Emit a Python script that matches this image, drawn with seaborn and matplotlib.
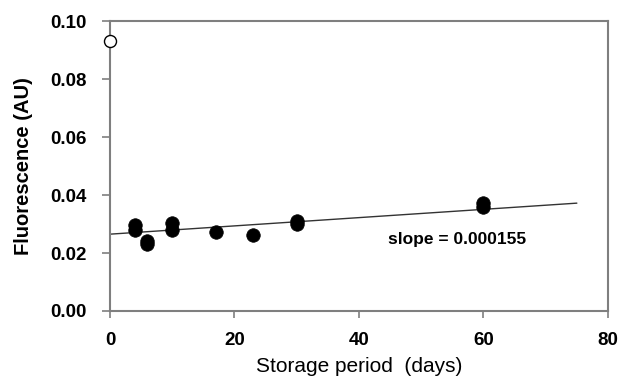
import matplotlib
matplotlib.use("Agg")
import matplotlib.pyplot as plt
import seaborn as sns
import pandas as pd

days = [4, 4, 6, 6, 10, 10, 17, 23, 30, 30, 60, 60]
fluor = [0.0295, 0.0280, 0.0240, 0.0232, 0.0302, 0.0280, 0.0273, 0.0262, 0.0312, 0.0300, 0.0372, 0.0360]
day0_x = [0]
day0_y = [0.093]
fit_x = [0, 75]
fit_y = [0.0265, 0.0372]
x_ticks = [0, 20, 40, 60, 80]
y_ticks = [0.00, 0.02, 0.04, 0.06, 0.08, 0.10]

sns.set_style("white")
plt.rcParams['font.family'] = ['Liberation Sans', 'DejaVu Sans']
plt.rcParams['text.color'] = 'black'
plt.rcParams['axes.labelcolor'] = 'black'

fig = plt.figure(figsize=(6.2, 3.83), dpi=100)
ax = fig.add_axes([0.1774, 0.188, 0.8032, 0.757])

df = pd.DataFrame({"day": days, "f": fluor})
sns.lineplot(x=fit_x, y=fit_y, ax=ax, color="#333333", linewidth=1.0)
sns.scatterplot(data=df, x="day", y="f", ax=ax, color="black", s=95, edgecolor="black", linewidth=0.5, zorder=3)
sns.scatterplot(x=day0_x, y=day0_y, ax=ax, color="white", s=75, edgecolor="black", linewidth=1.0, zorder=4, clip_on=False)

ax.set_xlim(0, 80)
ax.set_ylim(0, 0.10)
ax.set_xticks(x_ticks)
ax.set_yticks(y_ticks)
ax.set_xticklabels([str(t) for t in x_ticks], fontweight="bold", fontsize=13.5)
ax.set_yticklabels([f"{t:.2f}" for t in y_ticks], fontweight="bold", fontsize=13.5)
ax.set_xlabel("Storage period  (days)", fontsize=15, labelpad=6)
ax.set_ylabel("Fluorescence (AU)", fontsize=14.5, fontweight="bold", labelpad=12)

for sp in ax.spines.values():
    sp.set_visible(True)
    sp.set_color("#7f7f7f")
    sp.set_linewidth(1.5)
ax.tick_params(axis="x", direction="out", length=5, width=1.2, color="#7f7f7f", labelcolor="black", pad=10)
ax.tick_params(axis="y", direction="out", length=6, width=1.2, color="#7f7f7f", labelcolor="black", pad=11)
ax.tick_params(axis="both", which="both", bottom=True, left=True)

ax.text(55.8, 0.0245, "slope = 0.000155", fontsize=12.5, fontweight="bold", ha="center", va="center", color="black")

fig.savefig("out.png", dpi=100)
